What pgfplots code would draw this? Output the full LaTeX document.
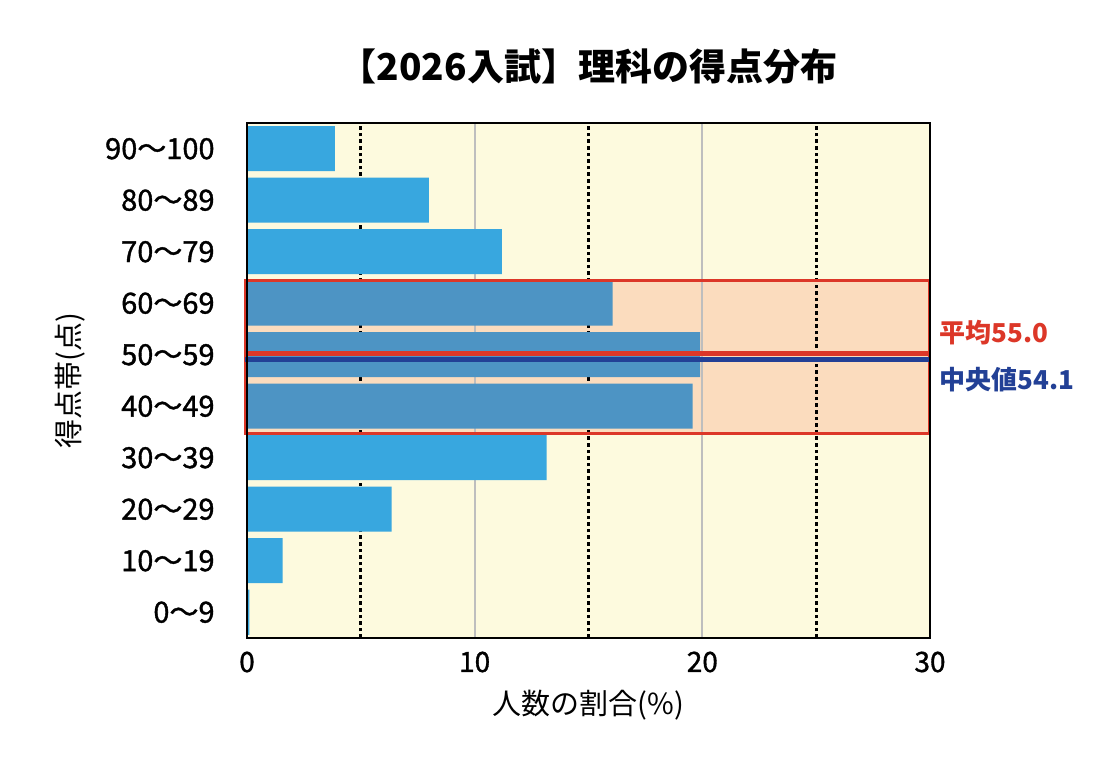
\documentclass[border=0pt]{standalone}
\usepackage{fontspec}
\setmainfont{Noto Sans CJK JP}
\newfontfamily\medfont[FakeBold=1.2]{Noto Sans CJK JP}
\usepackage{pgfplots}
\pgfplotsset{compat=1.18}

\definecolor{cream}{RGB}{253,250,222}
\definecolor{peach}{RGB}{251,220,190}
\definecolor{barblue}{RGB}{56,167,223}
\definecolor{bardark}{RGB}{77,148,196}
\definecolor{boxred}{RGB}{220,55,40}
\definecolor{lineblue}{RGB}{34,64,150}
\definecolor{gridgray}{RGB}{190,190,190}

\begin{document}
\begin{tikzpicture}
\useasboundingbox (-123.5pt,-63.5pt) rectangle (425.5pt,319pt);
\begin{axis}[
  at={(0pt,0pt)}, anchor=south west,
  scale only axis, width=341.5pt, height=257.5pt,
  xmin=0, xmax=30, ymin=-0.5, ymax=9.5,
  xtick={0,10,20,30}, ytick={0,...,9},
  yticklabels={0〜9,10〜19,20〜29,30〜39,40〜49,50〜59,60〜69,70〜79,80〜89,90〜100},
  major tick length=0pt,
  /pgf/number format/assume math mode=true,
  axis background/.style={fill=cream},
  axis line style={line width=1.4pt},
  axis on top,
  clip=false,
  xbar, bar width=0.874, bar shift=0pt,
  xticklabel style={font=\medfont\fontsize{14}{14}\selectfont, anchor=center, yshift=-12pt},
  yticklabel style={font=\medfont\fontsize{14.5}{14.5}\selectfont, anchor=east, inner sep=0pt, xshift=-16pt},
  title={\bfseries【2026入試】理科の得点分布},
  title style={font=\fontsize{18.5}{18.5}\selectfont, at={(axis description cs:0.5,1.087)}, anchor=center},
  xlabel={人数の割合(\%)},
  xlabel style={font=\fontsize{14.5}{14.5}\selectfont, at={(axis description cs:0.5,-0.130)}, anchor=center},
  ylabel={得点帯(点)},
  ylabel style={font=\fontsize{14.5}{14.5}\selectfont, at={(axis description cs:-0.259,0.5)}, anchor=center, rotate=0},
]
% highlighted band 40-69
\fill[peach] (axis cs:0,3.48) rectangle (axis cs:30,6.45);
% grid
\foreach \g in {10,20}{
  \edef\tmp{\noexpand\draw[gridgray, line width=0.9pt] (axis cs:\g,-0.5) -- (axis cs:\g,9.5);}\tmp
}
\foreach \g in {5,15,25}{
  \edef\tmp{\noexpand\draw[black, line width=1.5pt, dash pattern=on 1.8pt off 1.5pt] (axis cs:\g,-0.5) -- (axis cs:\g,9.5);}\tmp
}
\addplot[fill=barblue, draw=none] coordinates {
  (0.1,0) (1.57,1) (6.35,2) (13.16,3) (11.2,7) (7.99,8) (3.86,9)
};
\addplot[fill=bardark, draw=none] coordinates {
  (19.57,4) (19.9,5) (16.06,6)
};
\draw[boxred, line width=1.5pt] (axis cs:-0.08,3.48) rectangle (axis cs:30,6.45);
\draw[boxred, line width=2.5pt] (axis cs:-0.08,5.03) -- (axis cs:30,5.03);
\draw[lineblue, line width=2.4pt] (axis cs:-0.08,4.90) -- (axis cs:30,4.90);
\node[anchor=west, inner sep=0pt, xshift=4.5pt, text=boxred, font=\bfseries\fontsize{13}{13}\selectfont] at (axis cs:30,5.42) {平均55.0};
\node[anchor=west, inner sep=0pt, xshift=4.5pt, text=lineblue, font=\bfseries\fontsize{13}{13}\selectfont] at (axis cs:30,4.51) {中央値54.1};
\end{axis}
\end{tikzpicture}
\end{document}
